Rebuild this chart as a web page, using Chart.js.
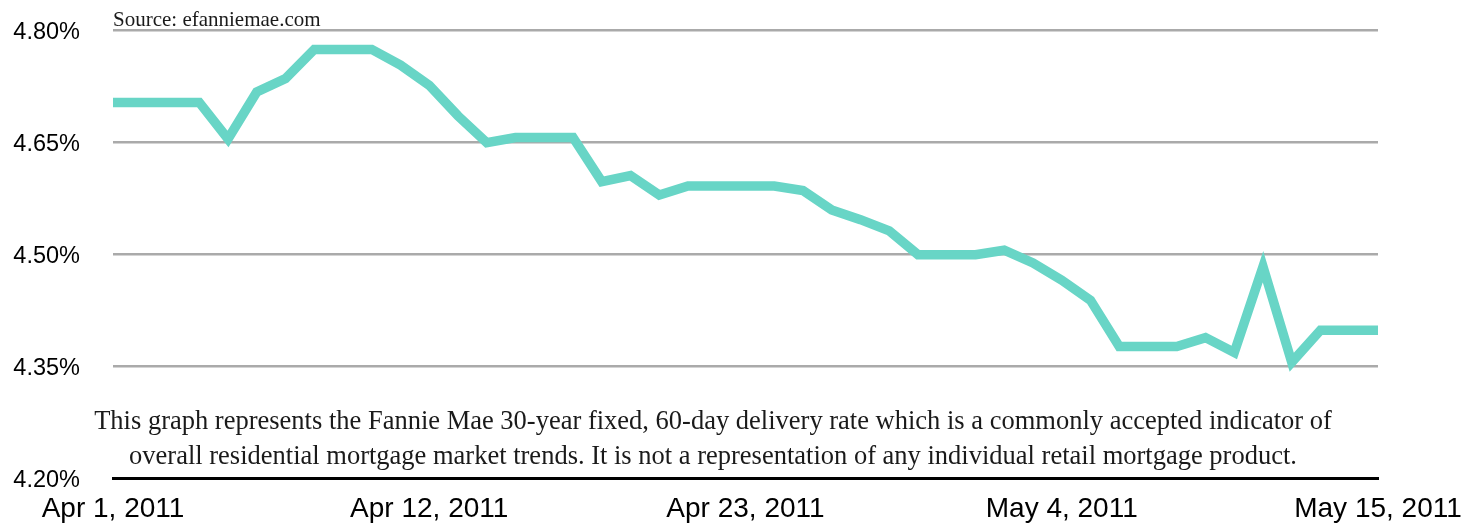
<!DOCTYPE html>
<html>
<head>
<meta charset="utf-8">
<script src="https://cdn.jsdelivr.net/npm/chart.js@4/dist/chart.umd.min.js"></script>
<style>
  html, body { margin: 0; padding: 0; background: #fff; }
  #wrap { width: 1465px; height: 524px; position: relative; }
</style>
</head>
<body>
<div id="wrap"><canvas id="c" width="1465" height="524"></canvas></div>
<script>
// Dates: Apr 1 2011 .. May 15 2011 (daily)
const dates = [
  "Apr 1, 2011","Apr 2, 2011","Apr 3, 2011","Apr 4, 2011","Apr 5, 2011","Apr 6, 2011","Apr 7, 2011","Apr 8, 2011","Apr 9, 2011","Apr 10, 2011",
  "Apr 11, 2011","Apr 12, 2011","Apr 13, 2011","Apr 14, 2011","Apr 15, 2011","Apr 16, 2011","Apr 17, 2011","Apr 18, 2011","Apr 19, 2011","Apr 20, 2011",
  "Apr 21, 2011","Apr 22, 2011","Apr 23, 2011","Apr 24, 2011","Apr 25, 2011","Apr 26, 2011","Apr 27, 2011","Apr 28, 2011","Apr 29, 2011","Apr 30, 2011",
  "May 1, 2011","May 2, 2011","May 3, 2011","May 4, 2011","May 5, 2011","May 6, 2011","May 7, 2011","May 8, 2011","May 9, 2011","May 10, 2011",
  "May 11, 2011","May 12, 2011","May 13, 2011","May 14, 2011","May 15, 2011"
];
// 30-year fixed 60-day delivery rate (%)
const rates = [
  4.703, 4.703, 4.703, 4.703, 4.654, 4.717, 4.735, 4.774, 4.774, 4.774,
  4.753, 4.726, 4.685, 4.649, 4.656, 4.656, 4.656, 4.597, 4.605, 4.579,
  4.591, 4.591, 4.591, 4.591, 4.585, 4.559, 4.546, 4.531, 4.499, 4.499,
  4.499, 4.505, 4.488, 4.465, 4.438, 4.376, 4.376, 4.376, 4.388, 4.368,
  4.483, 4.355, 4.398, 4.398, 4.398
];
const shownDates = ["Apr 1, 2011","Apr 12, 2011","Apr 23, 2011","May 4, 2011","May 15, 2011"];
const yTicks = [4.20, 4.35, 4.50, 4.65, 4.80];
const sourceText = "Source: efanniemae.com";
const noteLines = [
  "This graph represents the Fannie Mae 30-year fixed, 60-day delivery rate which is a commonly accepted indicator of",
  "overall residential mortgage market trends. It is not a representation of any individual retail mortgage product."
];

const textPlugin = {
  id: 'texts',
  afterDraw(chart) {
    const ctx = chart.ctx;
    const area = chart.chartArea;
    ctx.save();
    ctx.fillStyle = '#1a1a1a';
    ctx.font = '21px "Liberation Serif", "DejaVu Serif", serif';
    ctx.textAlign = 'left';
    ctx.textBaseline = 'alphabetic';
    ctx.fillText(sourceText, area.left, 26);
    ctx.font = '26.5px "Liberation Serif", "DejaVu Serif", serif';
    ctx.textAlign = 'center';
    ctx.fillText(noteLines[0], 713, 429);
    ctx.fillText(noteLines[1], 713, 464);
    ctx.restore();
  }
};

new Chart(document.getElementById('c'), {
  type: 'line',
  data: {
    labels: dates,
    datasets: [{
      data: rates,
      borderColor: '#68D5C6',
      borderWidth: 9.5,
      pointRadius: 0,
      tension: 0,
      fill: false,
      borderJoinStyle: 'miter',
      clip: false
    }]
  },
  options: {
    responsive: false,
    animation: false,
    devicePixelRatio: 1,
    layout: { padding: { top: 30, right: 87, left: 0, bottom: 0 } },
    plugins: { legend: { display: false }, tooltip: { enabled: false } },
    scales: {
      x: {
        type: 'category',
        offset: false,
        grid: { display: false },
        border: { display: true, color: '#000', width: 3 },
        afterFit(scale) { scale.height = 46; scale.paddingLeft = 0; scale.paddingRight = 0; },
        ticks: {
          autoSkip: false,
          maxRotation: 0,
          minRotation: 0,
          padding: 6,
          color: '#000',
          font: { family: '"Liberation Sans", Arial, sans-serif', size: 28 },
          callback(v, i) { const l = dates[i]; return shownDates.includes(l) ? l : null; }
        }
      },
      y: {
        min: yTicks[0],
        max: yTicks[yTicks.length - 1],
        afterBuildTicks(scale) { scale.ticks = yTicks.map(v => ({ value: v })); },
        afterFit(scale) { scale.width = 113; scale.paddingTop = 0; scale.paddingBottom = 0; },
        grid: { color: '#aaaaaa', lineWidth: 2.5, drawTicks: false },
        border: { display: false },
        ticks: {
          padding: 33,
          color: '#000',
          labelOffset: 3,
          font: { family: '"Liberation Sans", Arial, sans-serif', size: 23.5 },
          callback(v) { return v.toFixed(2) + '%'; }
        }
      }
    }
  },
  plugins: [textPlugin]
});
</script>
</body>
</html>
